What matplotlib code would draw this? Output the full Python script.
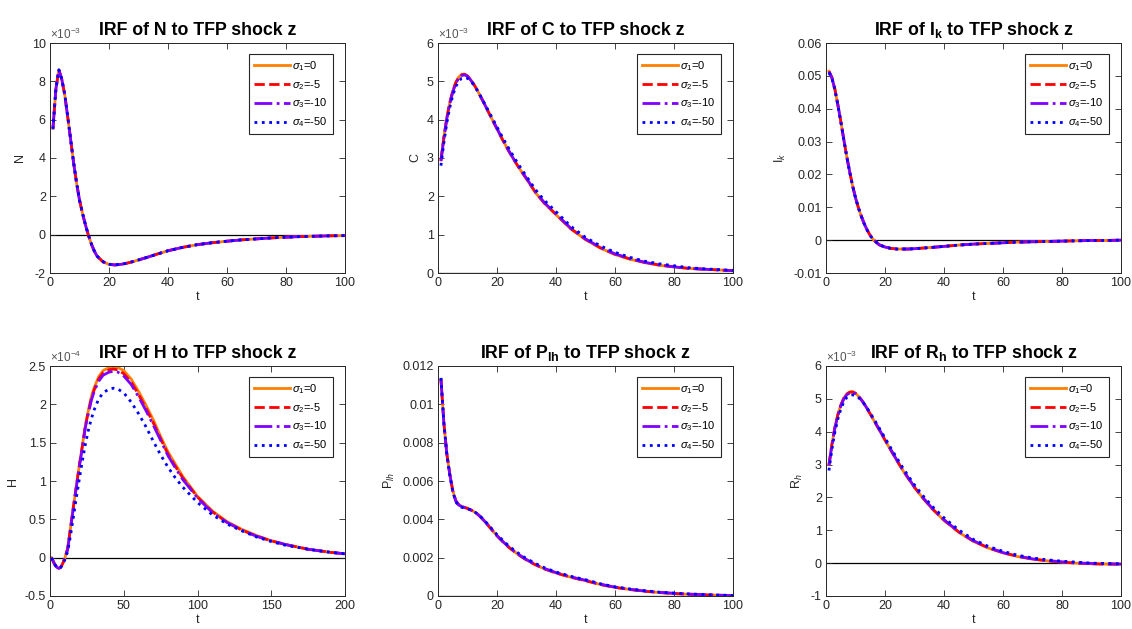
import numpy as np
import matplotlib.pyplot as plt
from matplotlib.ticker import FuncFormatter

plt.rcParams['font.family'] = ['Liberation Sans', 'DejaVu Sans']
plt.rcParams['mathtext.fontset'] = 'custom'
plt.rcParams['mathtext.rm'] = 'Liberation Sans'
plt.rcParams['mathtext.it'] = 'Liberation Sans:italic'
plt.rcParams['mathtext.bf'] = 'Liberation Sans:bold'

#time grids
t100 = [1, 2, 3, 4, 5, 6, 7, 8, 9, 10, 11, 12, 13, 14, 15, 16, 18, 20, 22, 24, 26, 28,
        30, 33, 36, 40, 45, 50, 55, 60, 65, 70, 75, 80, 85, 90, 95, 100]
t200 = [1, 2, 3, 4, 5, 6, 7, 8, 9, 10, 12, 14, 16, 18, 20, 22, 24, 26, 28, 30, 33, 36,
        40, 43, 46, 50, 55, 60, 65, 70, 75, 80, 85, 90, 100, 110, 120, 130, 140, 150,
        160, 175, 190, 200]

sigma_labels = [r'$\sigma_1$=0', r'$\sigma_2$=-5', r'$\sigma_3$=-10', r'$\sigma_4$=-50']

#N (x1e-3)
N_s1 = [5.55, 7.6, 8.6, 8.1, 7.3, 6.15, 4.95, 3.75, 2.7, 1.8, 1.12, 0.52, -0.02, -0.48, -0.85,
        -1.13, -1.42, -1.55, -1.58, -1.55, -1.49, -1.41, -1.32, -1.18, -1.03, -0.84, -0.66,
        -0.52, -0.42, -0.34, -0.27, -0.22, -0.17, -0.13, -0.10, -0.08, -0.06, -0.05]
N_s2 = [5.55, 7.6, 8.6, 8.1, 7.3, 6.15, 4.95, 3.75, 2.7, 1.8, 1.12, 0.52, -0.02, -0.48, -0.85,
        -1.13, -1.42, -1.55, -1.58, -1.55, -1.49, -1.41, -1.32, -1.18, -1.03, -0.84, -0.66,
        -0.52, -0.42, -0.34, -0.27, -0.22, -0.17, -0.13, -0.10, -0.08, -0.06, -0.05]
N_s3 = [5.55, 7.6, 8.6, 8.1, 7.3, 6.15, 4.95, 3.75, 2.7, 1.8, 1.12, 0.52, -0.02, -0.48, -0.85,
        -1.13, -1.42, -1.55, -1.58, -1.55, -1.49, -1.41, -1.32, -1.18, -1.03, -0.84, -0.66,
        -0.52, -0.42, -0.34, -0.27, -0.22, -0.17, -0.13, -0.10, -0.08, -0.06, -0.05]
N_s4 = [5.5, 7.6, 8.6, 8.12, 7.32, 6.18, 4.98, 3.78, 2.72, 1.82, 1.14, 0.53, -0.01, -0.47, -0.84,
        -1.12, -1.41, -1.54, -1.57, -1.55, -1.49, -1.41, -1.32, -1.18, -1.03, -0.84, -0.66,
        -0.52, -0.42, -0.34, -0.27, -0.22, -0.17, -0.13, -0.10, -0.08, -0.06, -0.05]

#C (x1e-3)
C_s1 = [2.95, 3.55, 4.06, 4.45, 4.75, 4.97, 5.11, 5.18, 5.19, 5.14, 5.05, 4.94, 4.81, 4.67,
        4.52, 4.37, 4.06, 3.76, 3.46, 3.18, 2.92, 2.68, 2.45, 2.1, 1.82, 1.52, 1.15, 0.87,
        0.65, 0.48, 0.36, 0.27, 0.2, 0.16, 0.12, 0.1, 0.08, 0.06]
C_s2 = [2.94, 3.54, 4.05, 4.44, 4.74, 4.96, 5.1, 5.17, 5.18, 5.14, 5.05, 4.94, 4.81, 4.67,
        4.52, 4.37, 4.06, 3.76, 3.46, 3.18, 2.92, 2.68, 2.46, 2.11, 1.83, 1.53, 1.16, 0.88,
        0.66, 0.49, 0.37, 0.28, 0.21, 0.16, 0.12, 0.1, 0.08, 0.06]
C_s3 = [2.92, 3.52, 4.03, 4.42, 4.72, 4.94, 5.08, 5.15, 5.17, 5.13, 5.04, 4.93, 4.81, 4.67,
        4.52, 4.37, 4.07, 3.77, 3.47, 3.19, 2.93, 2.69, 2.47, 2.12, 1.84, 1.54, 1.17, 0.89,
        0.67, 0.5, 0.38, 0.28, 0.21, 0.16, 0.12, 0.1, 0.08, 0.06]
C_s4 = [2.8, 3.4, 3.92, 4.32, 4.63, 4.86, 5.0, 5.08, 5.1, 5.08, 5.01, 4.92, 4.8, 4.67,
        4.53, 4.39, 4.1, 3.81, 3.52, 3.25, 2.99, 2.75, 2.52, 2.18, 1.9, 1.6, 1.22, 0.93,
        0.71, 0.54, 0.41, 0.31, 0.24, 0.19, 0.14, 0.11, 0.09, 0.07]

#I_k
Ik_s1 = [0.0514, 0.0495, 0.0460, 0.0413, 0.0362, 0.0308, 0.0256, 0.0209, 0.0166, 0.0129,
         0.0098, 0.0072, 0.0049, 0.0030, 0.0014, 0.0002, -0.0014, -0.0021, -0.0025, -0.0027,
         -0.0027, -0.0027, -0.0026, -0.0024, -0.0022, -0.0019, -0.0015, -0.0012, -0.0010,
         -0.0008, -0.0006, -0.0005, -0.0004, -0.0003, -0.0002, -0.0001, -0.0001, 0.0]
Ik_s2 = [0.0514, 0.0495, 0.0460, 0.0413, 0.0362, 0.0308, 0.0256, 0.0209, 0.0166, 0.0129,
         0.0098, 0.0072, 0.0049, 0.0030, 0.0014, 0.0002, -0.0014, -0.0021, -0.0025, -0.0027,
         -0.0027, -0.0027, -0.0026, -0.0024, -0.0022, -0.0019, -0.0015, -0.0012, -0.0010,
         -0.0008, -0.0006, -0.0005, -0.0004, -0.0003, -0.0002, -0.0001, -0.0001, 0.0]
Ik_s3 = [0.0513, 0.0494, 0.0459, 0.0413, 0.0362, 0.0308, 0.0256, 0.0209, 0.0166, 0.0129,
         0.0098, 0.0072, 0.0049, 0.0030, 0.0014, 0.0002, -0.0014, -0.0021, -0.0025, -0.0027,
         -0.0027, -0.0027, -0.0026, -0.0024, -0.0022, -0.0019, -0.0015, -0.0012, -0.0010,
         -0.0008, -0.0006, -0.0005, -0.0004, -0.0003, -0.0002, -0.0001, -0.0001, 0.0]
Ik_s4 = [0.0510, 0.0492, 0.0458, 0.0412, 0.0361, 0.0308, 0.0256, 0.0209, 0.0166, 0.0129,
         0.0098, 0.0072, 0.0049, 0.0030, 0.0014, 0.0002, -0.0014, -0.0021, -0.0025, -0.0027,
         -0.0027, -0.0027, -0.0026, -0.0024, -0.0022, -0.0019, -0.0015, -0.0012, -0.0010,
         -0.0008, -0.0006, -0.0005, -0.0004, -0.0003, -0.0002, -0.0001, -0.0001, 0.0]

#H (x1e-4)
H_s1 = [0.0, -0.04, -0.08, -0.11, -0.13, -0.14, -0.13, -0.10, -0.06, -0.01, 0.12, 0.40, 0.68,
        0.95, 1.22, 1.47, 1.73, 1.92, 2.10, 2.22, 2.36, 2.44, 2.48, 2.49, 2.48, 2.44, 2.33,
        2.17, 1.99, 1.80, 1.58, 1.38, 1.22, 1.06, 0.80, 0.61, 0.47, 0.37, 0.29, 0.22, 0.17,
        0.11, 0.07, 0.05]
H_s2 = [0.0, -0.04, -0.08, -0.11, -0.13, -0.14, -0.13, -0.10, -0.06, -0.01, 0.12, 0.40, 0.68,
        0.95, 1.22, 1.46, 1.72, 1.90, 2.07, 2.19, 2.33, 2.41, 2.45, 2.46, 2.45, 2.40, 2.29,
        2.13, 1.95, 1.76, 1.55, 1.35, 1.19, 1.04, 0.79, 0.60, 0.46, 0.36, 0.28, 0.22, 0.17,
        0.11, 0.07, 0.05]
H_s3 = [0.0, -0.04, -0.08, -0.11, -0.13, -0.14, -0.13, -0.10, -0.06, -0.01, 0.11, 0.39, 0.67,
        0.94, 1.20, 1.44, 1.70, 1.88, 2.05, 2.17, 2.30, 2.38, 2.42, 2.43, 2.42, 2.37, 2.26,
        2.10, 1.92, 1.73, 1.53, 1.33, 1.17, 1.02, 0.78, 0.59, 0.46, 0.36, 0.28, 0.22, 0.17,
        0.11, 0.07, 0.05]
H_s4 = [0.0, -0.04, -0.08, -0.11, -0.13, -0.14, -0.13, -0.11, -0.07, -0.03, 0.08, 0.30, 0.55,
        0.80, 1.04, 1.27, 1.48, 1.66, 1.81, 1.93, 2.07, 2.15, 2.20, 2.21, 2.20, 2.15, 2.03,
        1.88, 1.71, 1.52, 1.34, 1.18, 1.04, 0.92, 0.72, 0.56, 0.44, 0.35, 0.27, 0.21, 0.16,
        0.11, 0.07, 0.05]

#P_lh
Plh_s1 = [0.01130, 0.00900, 0.00740, 0.00635, 0.00550, 0.00498, 0.00476, 0.00468, 0.00462,
          0.00457, 0.00450, 0.00442, 0.00432, 0.00419, 0.00403, 0.00386, 0.00350, 0.00314,
          0.00283, 0.00254, 0.00230, 0.00208, 0.00188, 0.00163, 0.00142, 0.00120, 0.00098,
          0.00080, 0.00060, 0.00045, 0.00034, 0.00025, 0.00018, 0.00013, 0.00009, 0.00006,
          0.00004, 0.00002]
Plh_s2 = [0.01130, 0.00900, 0.00740, 0.00635, 0.00550, 0.00498, 0.00476, 0.00468, 0.00462,
          0.00457, 0.00450, 0.00442, 0.00432, 0.00419, 0.00403, 0.00386, 0.00350, 0.00314,
          0.00283, 0.00254, 0.00230, 0.00208, 0.00188, 0.00163, 0.00142, 0.00120, 0.00098,
          0.00080, 0.00060, 0.00045, 0.00034, 0.00025, 0.00018, 0.00013, 0.00009, 0.00006,
          0.00004, 0.00002]
Plh_s3 = [0.01132, 0.00900, 0.00740, 0.00635, 0.00549, 0.00497, 0.00475, 0.00467, 0.00461,
          0.00456, 0.00450, 0.00442, 0.00432, 0.00419, 0.00404, 0.00387, 0.00351, 0.00315,
          0.00284, 0.00256, 0.00232, 0.00210, 0.00190, 0.00165, 0.00144, 0.00122, 0.00100,
          0.00082, 0.00062, 0.00046, 0.00035, 0.00026, 0.00019, 0.00014, 0.00010, 0.00007,
          0.00004, 0.00002]
Plh_s4 = [0.01138, 0.00902, 0.00738, 0.00630, 0.00545, 0.00492, 0.00470, 0.00463, 0.00458,
          0.00455, 0.00449, 0.00442, 0.00433, 0.00421, 0.00406, 0.00390, 0.00355, 0.00320,
          0.00290, 0.00261, 0.00237, 0.00215, 0.00195, 0.00170, 0.00148, 0.00125, 0.00103,
          0.00085, 0.00064, 0.00048, 0.00037, 0.00028, 0.00020, 0.00015, 0.00011, 0.00008,
          0.00005, 0.00003]

#R_h (x1e-3)
Rh_s1 = [3.0, 3.62, 4.13, 4.52, 4.81, 5.02, 5.15, 5.21, 5.22, 5.17, 5.08, 4.97, 4.84, 4.69,
         4.54, 4.38, 4.06, 3.74, 3.43, 3.12, 2.83, 2.56, 2.3, 1.96, 1.65, 1.3, 0.94, 0.66,
         0.46, 0.31, 0.2, 0.12, 0.07, 0.03, 0.0, -0.02, -0.03, -0.03]
Rh_s2 = [2.99, 3.61, 4.12, 4.51, 4.8, 5.01, 5.14, 5.2, 5.21, 5.17, 5.08, 4.97, 4.84, 4.69,
         4.54, 4.38, 4.07, 3.75, 3.44, 3.13, 2.84, 2.57, 2.31, 1.97, 1.66, 1.31, 0.95, 0.67,
         0.47, 0.32, 0.21, 0.13, 0.07, 0.03, 0.0, -0.02, -0.03, -0.03]
Rh_s3 = [2.97, 3.59, 4.1, 4.49, 4.78, 4.99, 5.12, 5.18, 5.2, 5.16, 5.08, 4.97, 4.84, 4.7,
         4.55, 4.39, 4.08, 3.76, 3.45, 3.14, 2.85, 2.58, 2.32, 1.98, 1.67, 1.32, 0.96, 0.68,
         0.48, 0.32, 0.21, 0.13, 0.08, 0.04, 0.01, -0.01, -0.02, -0.03]
Rh_s4 = [2.82, 3.46, 3.98, 4.38, 4.68, 4.9, 5.04, 5.1, 5.12, 5.11, 5.04, 4.95, 4.84, 4.71,
         4.57, 4.42, 4.12, 3.81, 3.5, 3.2, 2.91, 2.64, 2.38, 2.04, 1.73, 1.38, 1.01, 0.72,
         0.51, 0.36, 0.24, 0.16, 0.1, 0.06, 0.03, 0.0, -0.01, -0.02]

#panel layout: (title, ylabel, t, series, ylim, yticks, xticks, exponent)
panels = [
    ('IRF of N to TFP shock z', 'N', t100, [N_s1, N_s2, N_s3, N_s4],
     (-2, 10), np.arange(-2, 10.1, 2), np.arange(0, 101, 20), -3),
    ('IRF of C to TFP shock z', 'C', t100, [C_s1, C_s2, C_s3, C_s4],
     (0, 6), np.arange(0, 6.1, 1), np.arange(0, 101, 20), -3),
    (r'IRF of I$_\mathbf{k}$ to TFP shock z', r'I$_k$', t100, [Ik_s1, Ik_s2, Ik_s3, Ik_s4],
     (-0.01, 0.06), np.arange(-0.01, 0.061, 0.01), np.arange(0, 101, 20), None),
    ('IRF of H to TFP shock z', 'H', t200, [H_s1, H_s2, H_s3, H_s4],
     (-0.5, 2.5), np.arange(-0.5, 2.51, 0.5), np.arange(0, 201, 50), -4),
    (r'IRF of P$_\mathbf{lh}$ to TFP shock z', r'P$_{lh}$', t100, [Plh_s1, Plh_s2, Plh_s3, Plh_s4],
     (0, 0.012), np.arange(0, 0.0121, 0.002), np.arange(0, 101, 20), None),
    (r'IRF of R$_\mathbf{h}$ to TFP shock z', r'R$_h$', t100, [Rh_s1, Rh_s2, Rh_s3, Rh_s4],
     (-1, 6), np.arange(-1, 6.1, 1), np.arange(0, 101, 20), -3),
]

colors = ['#FF8000', '#FF0000', '#8000FF', '#0000FF']
styles = ['-', '--', '-.', ':']
axcol = '#262626'

fig = plt.figure(figsize=(11.32, 6.29), dpi=100)
lefts = [50/1132, 438/1132, 826/1132]
bottoms = [1-273/629, 1-596/629]
w = 295/1132
h = 230/629

for k, (title, ylab, t, series, ylim, yt, xt, expo) in enumerate(panels):
    ax = fig.add_axes([lefts[k % 3], bottoms[k // 3], w, h])
    ax.axhline(0, color='k', lw=0.9, zorder=1)
    for s in range(4):
        ax.plot(t, series[s], color=colors[s], ls=styles[s], lw=2, label=sigma_labels[s], zorder=2+s)
    ax.set_xlim(xt[0], xt[-1])
    ax.set_ylim(*ylim)
    ax.set_xticks(xt)
    ax.set_yticks(yt)
    ax.yaxis.set_major_formatter(FuncFormatter(lambda v, p: '%g' % round(v, 6)))
    ax.xaxis.set_major_formatter(FuncFormatter(lambda v, p: '%g' % v))
    ax.tick_params(direction='in', top=True, right=True, length=4, width=0.6,
                   labelsize=9, colors=axcol, pad=3)
    for sp in ax.spines.values():
        sp.set_color(axcol)
        sp.set_linewidth(0.7)
    ax.set_title(title, fontsize=12.8, fontweight='bold', pad=6)
    ax.set_xlabel('t', fontsize=9, color=axcol, labelpad=1)
    ax.set_ylabel(ylab, fontsize=9, color=axcol, labelpad=4)
    if expo is not None:
        ax.text(0.0, 1.005, r'$\times$10$^{%d}$' % expo, transform=ax.transAxes,
                ha='left', va='bottom', fontsize=8.5, color='#555555')
    leg = ax.legend(loc='upper right', bbox_to_anchor=(0.959, 0.952), borderaxespad=0,
                    fontsize=8, handlelength=3.3, handletextpad=0.2, labelspacing=0.45,
                    borderpad=0.45, fancybox=False, framealpha=1, edgecolor='#262626')
    leg.get_frame().set_linewidth(0.8)

fig.savefig('out.png', dpi=100)
